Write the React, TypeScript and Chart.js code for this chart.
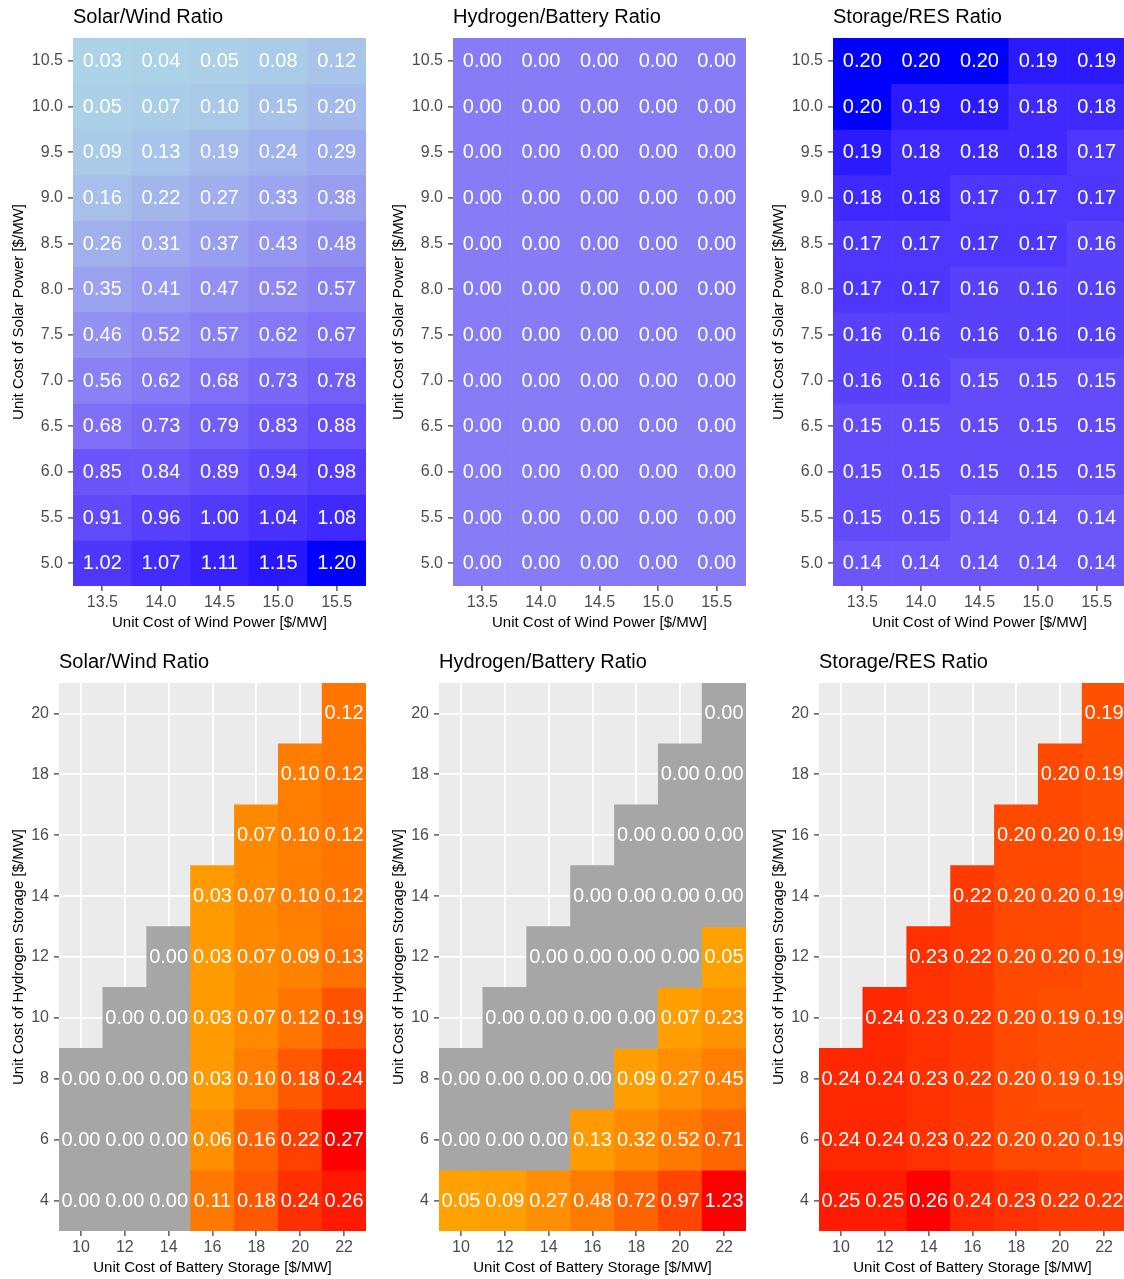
import React, { useEffect, useRef } from "react";
import { Chart, registerables } from "chart.js";

Chart.register(...registerables);

const FONT = "'Liberation Sans', Arial, Helvetica, sans-serif";
Chart.defaults.font.family = FONT;

// ---------- data ----------
const N = null;
const windCosts = [13.5, 14.0, 14.5, 15.0, 15.5];
const solarCosts = [10.5, 10.0, 9.5, 9.0, 8.5, 8.0, 7.5, 7.0, 6.5, 6.0, 5.5, 5.0];

const solarWindTop = [
  [0.03, 0.04, 0.05, 0.08, 0.12],
  [0.05, 0.07, 0.10, 0.15, 0.20],
  [0.09, 0.13, 0.19, 0.24, 0.29],
  [0.16, 0.22, 0.27, 0.33, 0.38],
  [0.26, 0.31, 0.37, 0.43, 0.48],
  [0.35, 0.41, 0.47, 0.52, 0.57],
  [0.46, 0.52, 0.57, 0.62, 0.67],
  [0.56, 0.62, 0.68, 0.73, 0.78],
  [0.68, 0.73, 0.79, 0.83, 0.88],
  [0.85, 0.84, 0.89, 0.94, 0.98],
  [0.91, 0.96, 1.00, 1.04, 1.08],
  [1.02, 1.07, 1.11, 1.15, 1.20],
];

const hydrogenBatteryTop = [
  [0, 0, 0, 0, 0],
  [0, 0, 0, 0, 0],
  [0, 0, 0, 0, 0],
  [0, 0, 0, 0, 0],
  [0, 0, 0, 0, 0],
  [0, 0, 0, 0, 0],
  [0, 0, 0, 0, 0],
  [0, 0, 0, 0, 0],
  [0, 0, 0, 0, 0],
  [0, 0, 0, 0, 0],
  [0, 0, 0, 0, 0],
  [0, 0, 0, 0, 0],
];

const storageResTop = [
  [0.20, 0.20, 0.20, 0.19, 0.19],
  [0.20, 0.19, 0.19, 0.18, 0.18],
  [0.19, 0.18, 0.18, 0.18, 0.17],
  [0.18, 0.18, 0.17, 0.17, 0.17],
  [0.17, 0.17, 0.17, 0.17, 0.16],
  [0.17, 0.17, 0.16, 0.16, 0.16],
  [0.16, 0.16, 0.16, 0.16, 0.16],
  [0.16, 0.16, 0.15, 0.15, 0.15],
  [0.15, 0.15, 0.15, 0.15, 0.15],
  [0.15, 0.15, 0.15, 0.15, 0.15],
  [0.15, 0.15, 0.14, 0.14, 0.14],
  [0.14, 0.14, 0.14, 0.14, 0.14],
];

const batteryCosts = [10, 12, 14, 16, 18, 20, 22];
const hydrogenCosts = [20, 18, 16, 14, 12, 10, 8, 6, 4];

const solarWindBottom = [
  [N, N, N, N, N, N, 0.12],
  [N, N, N, N, N, 0.10, 0.12],
  [N, N, N, N, 0.07, 0.10, 0.12],
  [N, N, N, 0.03, 0.07, 0.10, 0.12],
  [N, N, 0.00, 0.03, 0.07, 0.09, 0.13],
  [N, 0.00, 0.00, 0.03, 0.07, 0.12, 0.19],
  [0.00, 0.00, 0.00, 0.03, 0.10, 0.18, 0.24],
  [0.00, 0.00, 0.00, 0.06, 0.16, 0.22, 0.27],
  [0.00, 0.00, 0.00, 0.11, 0.18, 0.24, 0.26],
];

const hydrogenBatteryBottom = [
  [N, N, N, N, N, N, 0.00],
  [N, N, N, N, N, 0.00, 0.00],
  [N, N, N, N, 0.00, 0.00, 0.00],
  [N, N, N, 0.00, 0.00, 0.00, 0.00],
  [N, N, 0.00, 0.00, 0.00, 0.00, 0.05],
  [N, 0.00, 0.00, 0.00, 0.00, 0.07, 0.23],
  [0.00, 0.00, 0.00, 0.00, 0.09, 0.27, 0.45],
  [0.00, 0.00, 0.00, 0.13, 0.32, 0.52, 0.71],
  [0.05, 0.09, 0.27, 0.48, 0.72, 0.97, 1.23],
];

const storageResBottom = [
  [N, N, N, N, N, N, 0.19],
  [N, N, N, N, N, 0.20, 0.19],
  [N, N, N, N, 0.20, 0.20, 0.19],
  [N, N, N, 0.22, 0.20, 0.20, 0.19],
  [N, N, 0.23, 0.22, 0.20, 0.20, 0.19],
  [N, 0.24, 0.23, 0.22, 0.20, 0.19, 0.19],
  [0.24, 0.24, 0.23, 0.22, 0.20, 0.19, 0.19],
  [0.24, 0.24, 0.23, 0.22, 0.20, 0.20, 0.19],
  [0.25, 0.25, 0.26, 0.24, 0.23, 0.22, 0.22],
];

// ---------- colour helpers (CIELAB interpolation like ggplot) ----------
type RGB = [number, number, number];
const LIGHTBLUE: RGB = [173, 216, 230];
const BLUE: RGB = [0, 0, 255];
const ORANGE: RGB = [255, 165, 0];
const RED: RGB = [255, 0, 0];
const NA_GREY = "#A6A6A6";

const toLin = (c: number) => {
  const v = c / 255;
  return v <= 0.04045 ? v / 12.92 : Math.pow((v + 0.055) / 1.055, 2.4);
};
const fromLin = (c: number) => {
  const v = c <= 0.0031308 ? 12.92 * c : 1.055 * Math.pow(c, 1 / 2.4) - 0.055;
  return Math.round(Math.max(0, Math.min(1, v)) * 255);
};
const XN = 0.95047, YN = 1.0, ZN = 1.08883;
function rgbToLab(c: RGB) {
  const r = toLin(c[0]), g = toLin(c[1]), b = toLin(c[2]);
  const X = (0.4124 * r + 0.3576 * g + 0.1805 * b) / XN;
  const Y = (0.2126 * r + 0.7152 * g + 0.0722 * b) / YN;
  const Z = (0.0193 * r + 0.1192 * g + 0.9505 * b) / ZN;
  const f = (t: number) => (t > 0.008856 ? Math.cbrt(t) : 7.787 * t + 16 / 116);
  const fx = f(X), fy = f(Y), fz = f(Z);
  return [116 * fy - 16, 500 * (fx - fy), 200 * (fy - fz)];
}
function labToRgb(lab: number[]): string {
  const fy = (lab[0] + 16) / 116;
  const fx = fy + lab[1] / 500;
  const fz = fy - lab[2] / 200;
  const inv = (t: number) => (t > 0.206893 ? t * t * t : (t - 16 / 116) / 7.787);
  const X = inv(fx) * XN, Y = inv(fy) * YN, Z = inv(fz) * ZN;
  const r = 3.2406 * X - 1.5372 * Y - 0.4986 * Z;
  const g = -0.9689 * X + 1.8758 * Y + 0.0415 * Z;
  const b = 0.0557 * X - 0.204 * Y + 1.057 * Z;
  return `rgb(${fromLin(r)},${fromLin(g)},${fromLin(b)})`;
}
function mixLab(a: RGB, b: RGB, t: number) {
  const la = rgbToLab(a), lb = rgbToLab(b);
  return labToRgb(la.map((v, i) => v + (lb[i] - v) * t));
}

// ---------- panel definitions ----------
type Panel = {
  id: string;
  title: string;
  left: number;
  top: number;
  xs: number[];
  ys: number[];
  values: (number | null)[][];
  xTitle: string;
  yTitle: string;
  plotLeft: number;
  low: RGB;
  high: RGB;
  zeroNA: boolean;
  grid: boolean;
  tickDigits: number;
};

const TOP_X = "Unit Cost of Wind Power [$/MW]";
const TOP_Y = "Unit Cost of Solar Power [$/MW]";
const BOT_X = "Unit Cost of Battery Storage [$/MW]";
const BOT_Y = "Unit Cost of Hydrogen Storage [$/MW]";

const topBase = { xs: windCosts, ys: solarCosts, xTitle: TOP_X, yTitle: TOP_Y, plotLeft: 73, low: LIGHTBLUE, high: BLUE, zeroNA: false, grid: false, tickDigits: 1, top: 0 };
const botBase = { xs: batteryCosts, ys: hydrogenCosts, xTitle: BOT_X, yTitle: BOT_Y, plotLeft: 59, low: ORANGE, high: RED, zeroNA: true, grid: true, tickDigits: 0, top: 645 };

const panels: Panel[] = [
  { ...topBase, id: "t1", title: "Solar/Wind Ratio", left: 0, values: solarWindTop },
  { ...topBase, id: "t2", title: "Hydrogen/Battery Ratio", left: 380, values: hydrogenBatteryTop },
  { ...topBase, id: "t3", title: "Storage/RES Ratio", left: 760, values: storageResTop },
  { ...botBase, id: "b1", title: "Solar/Wind Ratio", left: 0, values: solarWindBottom },
  { ...botBase, id: "b2", title: "Hydrogen/Battery Ratio", left: 380, values: hydrogenBatteryBottom },
  { ...botBase, id: "b3", title: "Storage/RES Ratio", left: 760, values: storageResBottom },
];

const CANVAS_W = 380;
const CANVAS_H = 640;
const PLOT_RIGHT = 366;
const PLOT_BOTTOM = 586;

function HeatPanel({ p }: { p: Panel }) {
  const ref = useRef<HTMLCanvasElement>(null);

  useEffect(() => {
    if (!ref.current) return;
    const { xs, ys } = p;
    const hx = Math.abs(xs[1] - xs[0]) / 2;
    const hy = Math.abs(ys[0] - ys[1]) / 2;
    const all = p.values.flat().filter((v) => v != null) as number[];
    const max = Math.max(...all);
    const colorFor = (v: number) => {
      if (p.zeroNA && v === 0) return NA_GREY;
      const t = max > 0 ? v / max : 0.5;
      return mixLab(p.low, p.high, t);
    };

    const datasets = ys.map((yv, ri) => {
      const data: any[] = [];
      const colors: string[] = [];
      xs.forEach((xv, ci) => {
        const v = p.values[ri][ci];
        if (v == null) return;
        data.push({ x: xv, y: [yv - hy, yv + hy], v });
        colors.push(colorFor(v));
      });
      return {
        data,
        backgroundColor: colors,
        borderWidth: 0,
        grouped: false,
        barPercentage: 1,
        categoryPercentage: 1,
      };
    });

    const bgPlugin = {
      id: "panelBg" + p.id,
      beforeDraw(chart: any) {
        if (!p.grid) return;
        const { ctx, chartArea } = chart;
        ctx.save();
        ctx.fillStyle = "#EBEBEB";
        ctx.fillRect(chartArea.left, chartArea.top, chartArea.right - chartArea.left, chartArea.bottom - chartArea.top);
        ctx.restore();
      },
    };

    const labelPlugin = {
      id: "cellLabels" + p.id,
      afterDatasetsDraw(chart: any) {
        const { ctx } = chart;
        ctx.save();
        ctx.fillStyle = "#FFFFFF";
        ctx.font = `20px ${FONT}`;
        ctx.textAlign = "center";
        ctx.textBaseline = "middle";
        chart.data.datasets.forEach((ds: any, di: number) => {
          const meta = chart.getDatasetMeta(di);
          meta.data.forEach((el: any, i: number) => {
            const v = ds.data[i].v as number;
            ctx.fillText(v.toFixed(2), el.x, (el.y + el.base) / 2 + 0.5);
          });
        });
        ctx.restore();
      },
    };

    const tickFmt = (v: any) => Number(v).toFixed(p.tickDigits);

    const chart = new Chart(ref.current, {
      type: "bar",
      data: { datasets: datasets as any },
      options: {
        animation: false,
        responsive: false,
        events: [],
        layout: { padding: { top: 0, left: 0, right: CANVAS_W - PLOT_RIGHT, bottom: 0 } },
        plugins: {
          legend: { display: false },
          tooltip: { enabled: false },
          title: {
            display: true,
            text: p.title,
            align: "start",
            fullSize: false,
            color: "#000000",
            font: { size: 20, family: FONT, weight: "normal" as any },
            padding: { top: 5, bottom: 9 },
          },
        },
        scales: {
          x: {
            type: "linear",
            min: Math.min(...xs) - hx,
            max: Math.max(...xs) + hx,
            offset: false,
            afterBuildTicks: (s: any) => {
              s.ticks = xs.map((v) => ({ value: v }));
            },
            afterFit: (s: any) => {
              s.height = CANVAS_H - PLOT_BOTTOM;
            },
            grid: {
              offset: false,
              drawOnChartArea: p.grid,
              color: "#FFFFFF",
              lineWidth: 1.8,
              tickColor: "#333333",
              tickWidth: 1.2,
              tickLength: 5,
            },
            border: { display: false },
            ticks: {
              color: "#4D4D4D",
              font: { size: 16, family: FONT },
              padding: 2,
              maxRotation: 0,
              autoSkip: false,
              callback: tickFmt,
            },
            title: {
              display: true,
              text: p.xTitle,
              color: "#000000",
              font: { size: 15, family: FONT },
              padding: { top: 0, bottom: 8 },
            },
          } as any,
          y: {
            type: "linear",
            min: Math.min(...ys) - hy,
            max: Math.max(...ys) + hy,
            offset: false,
            afterBuildTicks: (s: any) => {
              s.ticks = [...ys].sort((a, b) => a - b).map((v) => ({ value: v }));
            },
            afterFit: (s: any) => {
              s.width = p.plotLeft;
            },
            grid: {
              offset: false,
              drawOnChartArea: p.grid,
              color: "#FFFFFF",
              lineWidth: 1.8,
              tickColor: "#333333",
              tickWidth: 1.2,
              tickLength: 5,
            },
            border: { display: false },
            ticks: {
              color: "#4D4D4D",
              font: { size: 16, family: FONT },
              padding: 5,
              autoSkip: false,
              callback: tickFmt,
            },
            title: {
              display: true,
              text: p.yTitle,
              color: "#000000",
              font: { size: 15, family: FONT },
              padding: { top: 9.5, bottom: 0 },
            },
          } as any,
        },
      },
      plugins: [bgPlugin, labelPlugin],
    });

    return () => chart.destroy();
  }, [p]);

  return (
    <canvas
      ref={ref}
      width={CANVAS_W}
      height={CANVAS_H}
      style={{ position: "absolute", left: p.left, top: p.top, width: CANVAS_W, height: CANVAS_H }}
    />
  );
}

export default function App() {
  return (
    <div
      style={{
        position: "absolute",
        left: 0,
        top: 0,
        width: 1124,
        height: 1279,
        overflow: "hidden",
        background: "#FFFFFF",
      }}
    >
      {panels.map((p) => (
        <HeatPanel key={p.id} p={p} />
      ))}
    </div>
  );
}
